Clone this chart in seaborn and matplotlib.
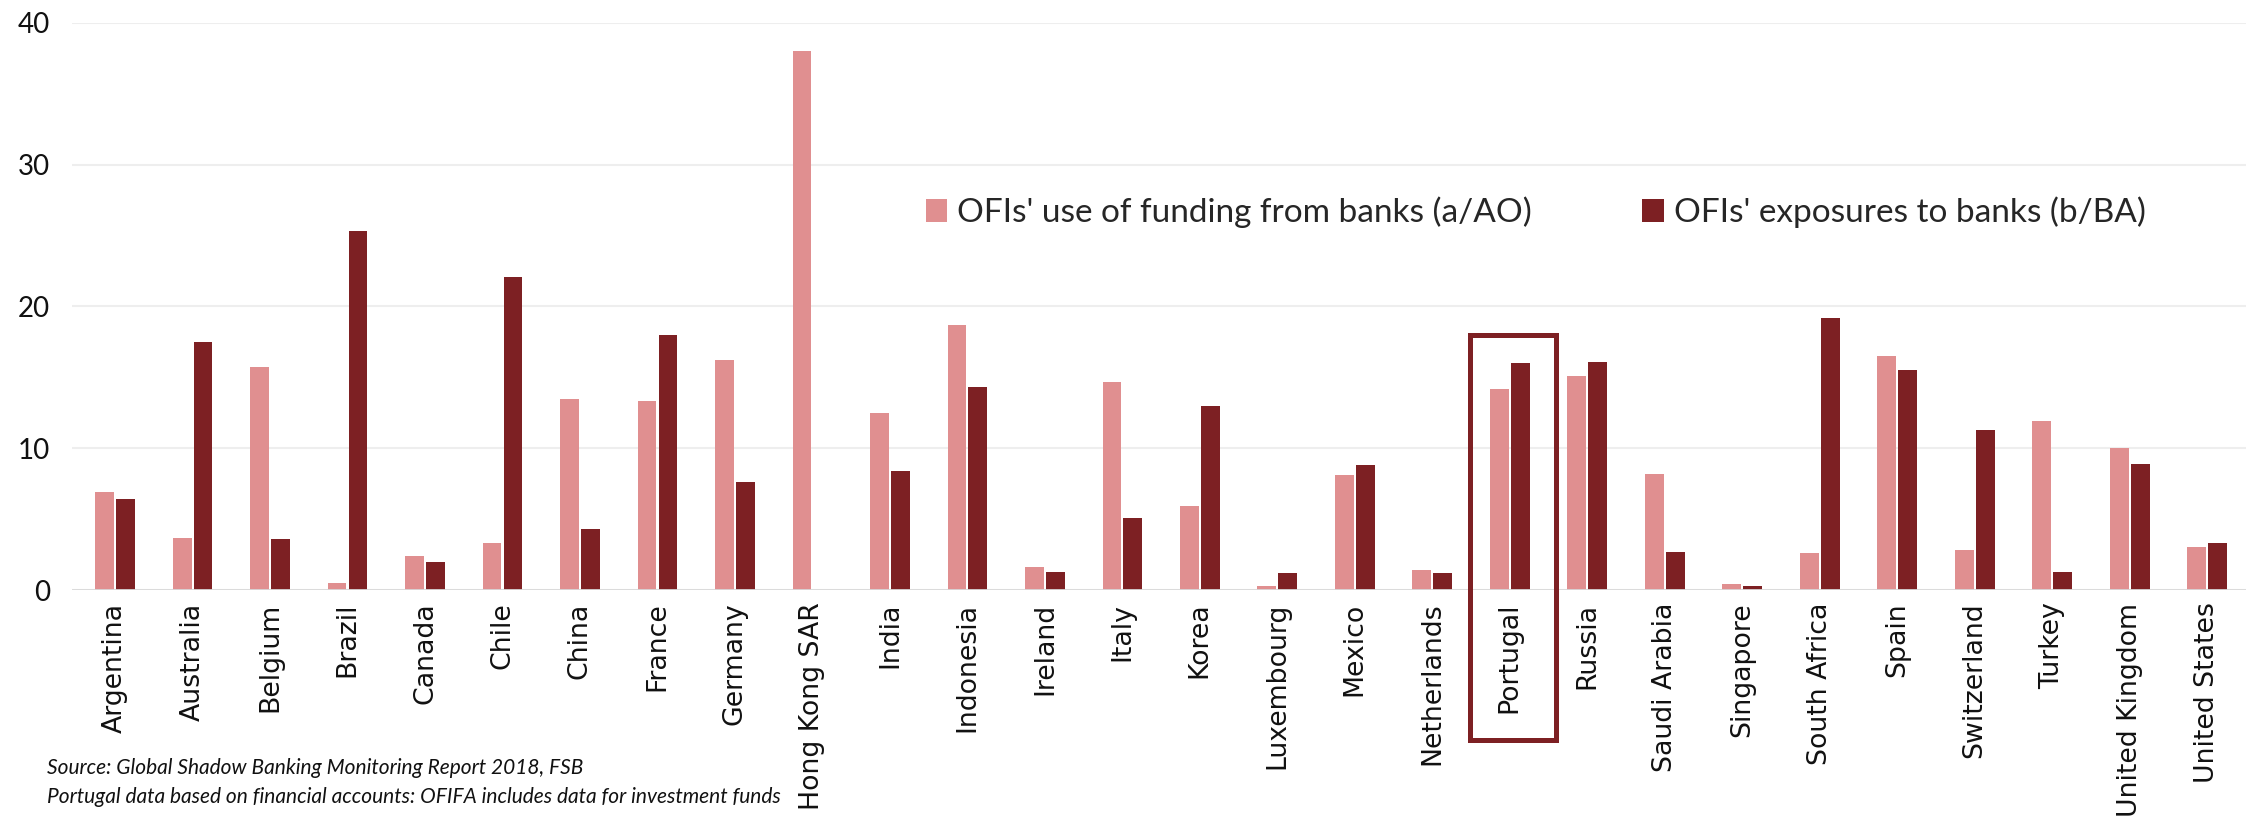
import matplotlib
matplotlib.use("Agg")
import matplotlib.pyplot as plt
import seaborn as sns
import pandas as pd
from matplotlib.patches import Rectangle

countries = ["Argentina", "Australia", "Belgium", "Brazil", "Canada", "Chile", "China",
             "France", "Germany", "Hong Kong SAR", "India", "Indonesia", "Ireland", "Italy",
             "Korea", "Luxembourg", "Mexico", "Netherlands", "Portugal", "Russia",
             "Saudi Arabia", "Singapore", "South Africa", "Spain", "Switzerland", "Turkey",
             "United Kingdom", "United States"]
funding_from_banks = [6.9, 3.7, 15.7, 0.5, 2.4, 3.3, 13.5, 13.3, 16.2, 38.0, 12.5, 18.7,
                      1.6, 14.7, 5.9, 0.3, 8.1, 1.4, 14.2, 15.1, 8.2, 0.4, 2.6, 16.5,
                      2.8, 11.9, 10.0, 3.0]
exposures_to_banks = [6.4, 17.5, 3.6, 25.3, 2.0, 22.1, 4.3, 18.0, 7.6, 0.0, 8.4, 14.3,
                      1.3, 5.1, 13.0, 1.2, 8.8, 1.2, 16.0, 16.1, 2.7, 0.25, 19.2, 15.5,
                      11.3, 1.3, 8.9, 3.3]
series_names = ["OFIs' use of funding from banks (a/AO)", "OFIs' exposures to banks (b/BA)"]
y_ticks = [0, 10, 20, 30, 40]
source_lines = ["Source: Global Shadow Banking Monitoring Report 2018, FSB",
                "Portugal data based on financial accounts: OFIFA includes data for investment funds"]
highlight = "Portugal"

pink = "#E08F90"
dark = "#7D2023"

df = pd.DataFrame({
    "country": countries * 2,
    "value": funding_from_banks + exposures_to_banks,
    "series": [series_names[0]] * len(countries) + [series_names[1]] * len(countries),
})

sns.set_theme(style="white")
plt.rcParams["font.family"] = ["Lato", "DejaVu Sans"]

fig = plt.figure(figsize=(22.52, 8.19), dpi=100)
ax = fig.add_axes([0.032, 0.2796, 0.9653, 0.6924])

sns.barplot(data=df, x="country", y="value", hue="series", order=countries,
            hue_order=series_names, palette=[pink, dark], width=0.54, gap=0.1,
            saturation=1, errorbar=None, ax=ax, edgecolor="none")

ax.set_ylim(0, 40)
ax.set_xlim(-0.555, 27.5)
ax.set_yticks(y_ticks)
ax.set_yticklabels([str(t) for t in y_ticks], fontsize=20, color="#111111")
ax.yaxis.grid(True, color="#EEEEEE", linewidth=1.5)
ax.set_axisbelow(True)
ax.axhline(0, color="#D9D9D9", linewidth=2, zorder=3)
for s in ax.spines.values():
    s.set_visible(False)
ax.tick_params(axis="y", length=0, pad=16)
ax.tick_params(axis="x", length=0, pad=9)
ax.set_xlabel("")
ax.set_ylabel("")
for lab in ax.get_xticklabels():
    lab.set_rotation(90)
    lab.set_fontfamily("DejaVu Sans")
    lab.set_fontsize(19.3)
    lab.set_color("#111111")

handles, labels = ax.get_legend_handles_labels()
ax.legend(handles, labels, ncol=2, frameon=False, loc="center left",
          bbox_to_anchor=(0.385, 0.666), fontsize=24, handlelength=0.65,
          handleheight=0.65, handletextpad=0.3, columnspacing=3.3, borderpad=0)

i = countries.index(highlight)
rect = Rectangle((i - 0.52, -10.55), 1.11, 28.55, transform=ax.transData,
                 fill=False, edgecolor=dark, linewidth=3.6, clip_on=False, zorder=5)
ax.add_patch(rect)

fig.text(0.021, 0.062, source_lines[0], fontsize=15, style="italic", color="#111111",
         va="center")
fig.text(0.021, 0.027, source_lines[1], fontsize=15, style="italic", color="#111111",
         va="center")

fig.savefig("out.png", dpi=100)
